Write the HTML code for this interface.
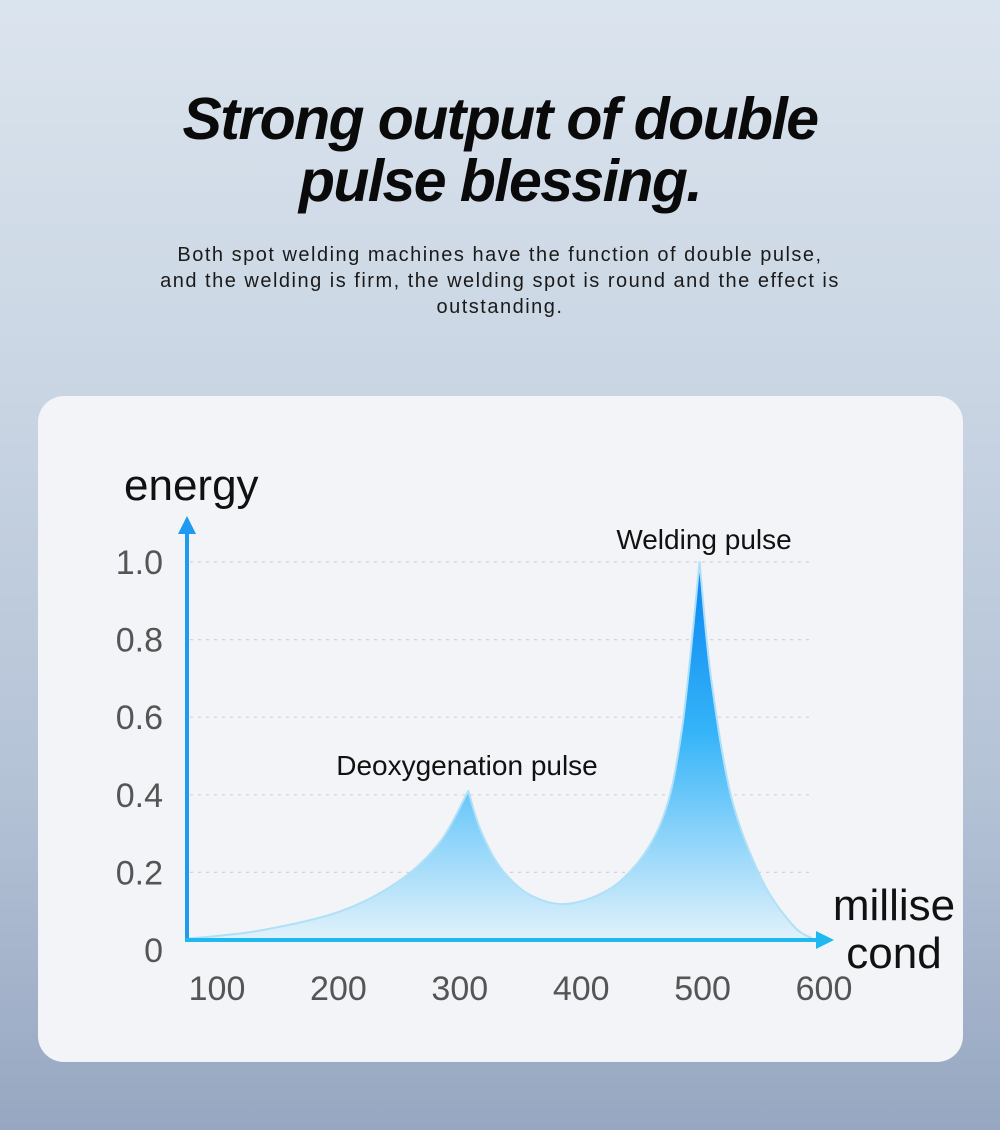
<!DOCTYPE html>
<html><head><meta charset="utf-8"><style>
body{margin:0;width:1000px;height:1130px;overflow:hidden;font-family:"Liberation Sans",sans-serif;
background:linear-gradient(180deg,#dbe4ee 0%,#c9d5e3 35%,#b4c2d6 70%,#97a7c1 100%);position:relative}
.t{position:absolute;left:0;width:1000px;text-align:center}
#title{top:88px;font-size:59px;font-weight:bold;font-style:italic;line-height:62px;color:#0a0a0a;letter-spacing:-1.6px}
#sub{top:242px;font-size:20px;line-height:26px;color:#1a1a1a;letter-spacing:1.5px}
#card{position:absolute;left:38px;top:396px;width:925px;height:666px;border-radius:26px;background:#f2f4f7}
svg{position:absolute;left:0;top:0}
</style></head><body>
<div class="t" id="title">Strong output of double<br>pulse blessing.</div>
<div class="t" id="sub">Both spot welding machines have the function of double pulse,<br>and the welding is firm, the welding spot is round and the effect is<br>outstanding.</div>
<div id="card"></div>
<svg id="chart" width="1000" height="1130">
<defs>
<linearGradient id="fill" x1="0" y1="0" x2="0" y2="1">
<stop offset="0" stop-color="#0a84f0"/><stop offset="0.45" stop-color="#35b4f8"/><stop offset="1" stop-color="#e2f2fb"/>
</linearGradient>
</defs>
</svg>
<script>
const xTicks=[100,200,300,400,500,600];
const yTicks=[0,0.2,0.4,0.6,0.8,1.0];
const yTickLabels=["0","0.2","0.4","0.6","0.8","1.0"];
const curveX=[78,135,202,251,284,307,317,334,359,392,433,466,483,497.5,507,524,549,574,590];
const curveY=[0.03,0.05,0.10,0.18,0.28,0.41,0.31,0.21,0.14,0.12,0.18,0.33,0.57,1.0,0.70,0.39,0.18,0.065,0.03];
const cusps=[5,13];
const X=v=>217+(v-100)*1.214;
const Y=v=>950-v*388;
const svg=document.getElementById('chart');
const NS='http://www.w3.org/2000/svg';
function mk(tag,attrs,text){const e=document.createElementNS(NS,tag);for(const k in attrs)e.setAttribute(k,attrs[k]);if(text!==undefined)e.textContent=text;svg.appendChild(e);return e;}
yTicks.forEach((v,i)=>{
  if(v>0){const g=mk('line',{x1:190,x2:812,y1:Y(v),y2:Y(v),stroke:'#cfd4db','stroke-width':1.2,'stroke-dasharray':'3 5'});
  
  }
  const t=mk('text',{x:163,y:Y(v)+12,'text-anchor':'end','font-size':34,fill:'#555'},yTickLabels[i]);
  
  
});
xTicks.forEach(v=>{
  const t=mk('text',{x:X(v),y:1000,'text-anchor':'middle','font-size':34,fill:'#555'},String(v));
  
  
});
const pts=curveX.map((x,i)=>[X(x),Y(curveY[i])]);
const bounds=[0,...cusps,pts.length-1];
let d='M'+pts[0][0].toFixed(1)+','+pts[0][1].toFixed(1);
for(let s=0;s<bounds.length-1;s++){
  const a=bounds[s],b=bounds[s+1];
  for(let i=a;i<b;i++){
    const p0=pts[i>a?i-1:i],p1=pts[i],p2=pts[i+1],p3=pts[i+1<b?i+2:i+1];
    const c1=[p1[0]+(p2[0]-p0[0])/6,p1[1]+(p2[1]-p0[1])/6];
    const c2=[p2[0]-(p3[0]-p1[0])/6,p2[1]-(p3[1]-p1[1])/6];
    d+=` C${c1[0].toFixed(1)},${c1[1].toFixed(1)} ${c2[0].toFixed(1)},${c2[1].toFixed(1)} ${p2[0].toFixed(1)},${p2[1].toFixed(1)}`;
  }
}
d+=' L'+pts[pts.length-1][0]+',940 L'+pts[0][0]+',940 Z';
const area=mk('path',{d:d,fill:'url(#fill)',stroke:'#b0e0f8','stroke-width':2,'stroke-linejoin':'round'});


const ya=mk('line',{x1:187,y1:940,x2:187,y2:528,stroke:'#1e9af0','stroke-width':4});


const yh=mk('polygon',{points:'187,516 178,534 196,534',fill:'#1e9af0'});


const xa=mk('line',{x1:185,y1:940,x2:820,y2:940,stroke:'#1fb8f0','stroke-width':4});


const xh=mk('polygon',{points:'834,940 816,931 816,949',fill:'#1fb8f0'});


const labels=[["energy",124,500,44,'start','y-axis-title'],["millise",894,920,44,'middle','x-axis-title'],["cond",894,968,44,'middle','x-axis-title-2'],
["Welding pulse",704,549,28,'middle','welding-pulse-label'],["Deoxygenation pulse",467,775,28,'middle','deoxygenation-pulse-label']];
labels.forEach(l=>{
  const t=mk('text',{x:l[1],y:l[2],'font-size':l[3],'text-anchor':l[4],fill:'#111'},l[0]);
  
  
});
</script>
</body></html>
